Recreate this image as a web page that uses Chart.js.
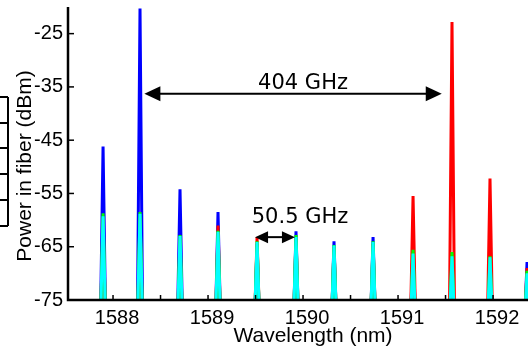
<!DOCTYPE html>
<html lang="en">
<head>
    <meta charset="UTF-8">
    <title>Power in fiber</title>
    <script src="https://cdn.jsdelivr.net/npm/chart.js@4/dist/chart.umd.min.js"></script>
    <style>
        html, body { margin: 0; padding: 0; background: #fff; overflow: hidden; }
    </style>
</head>
<body>
<canvas id="myChart" width="528" height="347"></canvas>

<script>
    // channel centre wavelengths (nm)
    const channels = [1587.895, 1588.284, 1588.705, 1589.105, 1589.516, 1589.926, 1590.326, 1590.737, 1591.158, 1591.568, 1591.968, 1592.358];

    // peak power of every channel, one list per trace (dBm)
    const blueLevels  = [-46.2, -20.3, -54.2, -58.5, -64.5, -62.1, -64.0, -63.2, -64.1, -67.0, -68.5, -67.9];
    const redLevels   = [-59.5, -59.5, -63.5, -61.0, -63.2, -63.5, -65.0, -64.5, -55.5, -22.8, -52.2, -69.0];
    const greenLevels = [-58.7, -58.5, -62.8, -62.0, -64.0, -62.8, -64.7, -64.0, -65.6, -66.0, -66.8, -69.5];
    const cyanLevels  = [-59.3, -58.8, -63.0, -62.2, -64.1, -63.2, -64.8, -64.1, -66.3, -66.8, -67.0, -70.0];

    const noiseFloor = -80;   // below the visible range

    const xTickLabels = [1588, 1589, 1590, 1591, 1592];
    const yTickLabels = [-75, -65, -55, -45, -35, -25];

    const PEAK_HW = 0.028;    // half width of a drawn peak, nm

    function buildTrace(levels){
        let pts = [];
        channels.forEach(function(c, i){
            pts.push({x: c - PEAK_HW, y: noiseFloor});
            pts.push({x: c, y: levels[i]});
            pts.push({x: c + PEAK_HW, y: noiseFloor});
        });
        return pts;
    }

    function isIn(list, v){
        return list.some(function(t){ return Math.abs(t - v) < 1e-6; });
    }

    // arrows + labels, in data units
    const spanArrow = {from: 1588.33, to: 1591.46, y: -36.3, text: '404 GHz', textX: 1590.0, textY: -34.4, size: 21, head: 16, half: 7.5};
    const gapArrow  = {from: 1589.495, to: 1589.915, y: -63.2, text: '50.5 GHz', textX: 1589.968, textY: -59.6, size: 21, head: 13, half: 6};

    function arrow(ctx, x1, x2, y, head, half){
        ctx.beginPath();
        ctx.moveTo(x1 + head - 2, y);
        ctx.lineTo(x2 - head + 2, y);
        ctx.stroke();
        ctx.beginPath();
        ctx.moveTo(x1, y);
        ctx.lineTo(x1 + head, y - half);
        ctx.lineTo(x1 + head, y + half);
        ctx.closePath();
        ctx.fill();
        ctx.beginPath();
        ctx.moveTo(x2, y);
        ctx.lineTo(x2 - head, y - half);
        ctx.lineTo(x2 - head, y + half);
        ctx.closePath();
        ctx.fill();
    }

    const decorations = {
        id: 'decorations',
        afterDraw(chart){
            const ctx = chart.ctx;
            const area = chart.chartArea;
            const xs = chart.scales.x;
            const ys = chart.scales.y;
            ctx.save();
            ctx.strokeStyle = '#000';
            ctx.fillStyle = '#000';

            // inward ticks
            ctx.lineWidth = 1.5;
            xs.ticks.forEach(function(t){
                const px = xs.getPixelForValue(t.value);
                ctx.beginPath();
                ctx.moveTo(px, area.bottom);
                ctx.lineTo(px, area.bottom - 5);
                ctx.stroke();
            });
            ys.ticks.forEach(function(t){
                const py = ys.getPixelForValue(t.value);
                ctx.beginPath();
                ctx.moveTo(area.left, py);
                ctx.lineTo(area.left + 6, py);
                ctx.stroke();
            });

            // axis lines
            ctx.lineWidth = 2.5;
            ctx.beginPath();
            ctx.moveTo(area.left, area.top);
            ctx.lineTo(area.left, area.bottom);
            ctx.lineTo(area.right, area.bottom);
            ctx.stroke();

            // axis titles
            ctx.font = '21px "Liberation Sans", Arial, sans-serif';
            ctx.textAlign = 'center';
            ctx.textBaseline = 'middle';
            ctx.fillText('Wavelength (nm)', 313, 336);
            ctx.save();
            ctx.translate(25, 166);
            ctx.rotate(-Math.PI / 2);
            ctx.fillText('Power in fiber (dBm)', 0, 0);
            ctx.restore();

            // annotations
            ctx.lineWidth = 2;
            [spanArrow, gapArrow].forEach(function(a){
                const x1 = xs.getPixelForValue(a.from);
                const x2 = xs.getPixelForValue(a.to);
                arrow(ctx, x1, x2, ys.getPixelForValue(a.y), a.head, a.half);
                ctx.font = a.size + 'px "DejaVu Sans", Verdana, sans-serif';
                ctx.fillText(a.text, xs.getPixelForValue(a.textX), ys.getPixelForValue(a.textY));
            });

            // cut-off legend box at the left edge
            ctx.lineWidth = 2;
            ctx.beginPath();
            [97, 123, 148, 174, 200, 226].forEach(function(y){
                ctx.moveTo(0, y);
                ctx.lineTo(8, y);
            });
            ctx.moveTo(8, 97);
            ctx.lineTo(8, 226);
            ctx.stroke();

            ctx.restore();
        }
    };

    function traceSet(color, levels){
        return {
            data: buildTrace(levels),
            borderColor: color,
            backgroundColor: color,
            borderWidth: 3,
            pointRadius: 0,
            tension: 0,
            borderJoinStyle: 'miter'
        };
    }

    const tickFont = {family: '"Liberation Sans", Arial, sans-serif', size: 20};

    const ctx = document.getElementById('myChart');
    const myChart = new Chart(ctx, {
        type: 'line',
        data: {
            // first dataset is drawn on top
            datasets: [
                traceSet('#00ffff', cyanLevels),
                traceSet('#00ff00', greenLevels),
                traceSet('#ff0000', redLevels),
                traceSet('#0000ff', blueLevels)
            ]
        },
        options: {
            responsive: false,
            animation: false,
            devicePixelRatio: 1,
            layout: {padding: {top: 7, left: 0, right: 0, bottom: 0}},
            plugins: {
                legend: {display: false},
                tooltip: {enabled: false}
            },
            scales: {
                x: {
                    type: 'linear',
                    min: 1587.526,
                    max: 1592.368,
                    afterFit: function(s){
                        s.height = 47;
                        s.paddingLeft = 0;
                        s.paddingRight = 0;
                    },
                    grid: {display: false, drawTicks: false},
                    border: {display: false},
                    ticks: {
                        stepSize: 0.5,
                        includeBounds: false,
                        autoSkip: false,
                        maxRotation: 0,
                        padding: 6,
                        labelOffset: 4,
                        color: '#000',
                        font: tickFont,
                        callback: function(v){ return isIn(xTickLabels, v) ? String(Math.round(v)) : ''; }
                    }
                },
                y: {
                    min: -75,
                    max: -20,
                    afterFit: function(s){
                        s.width = 68;
                        s.paddingTop = 0;
                        s.paddingBottom = 0;
                    },
                    grid: {display: false, drawTicks: false},
                    border: {display: false},
                    ticks: {
                        stepSize: 5,
                        padding: 5,
                        color: '#000',
                        font: tickFont,
                        callback: function(v){ return isIn(yTickLabels, v) ? String(v) : ''; }
                    }
                }
            }
        },
        plugins: [decorations]
    });
</script>
</body>
</html>
